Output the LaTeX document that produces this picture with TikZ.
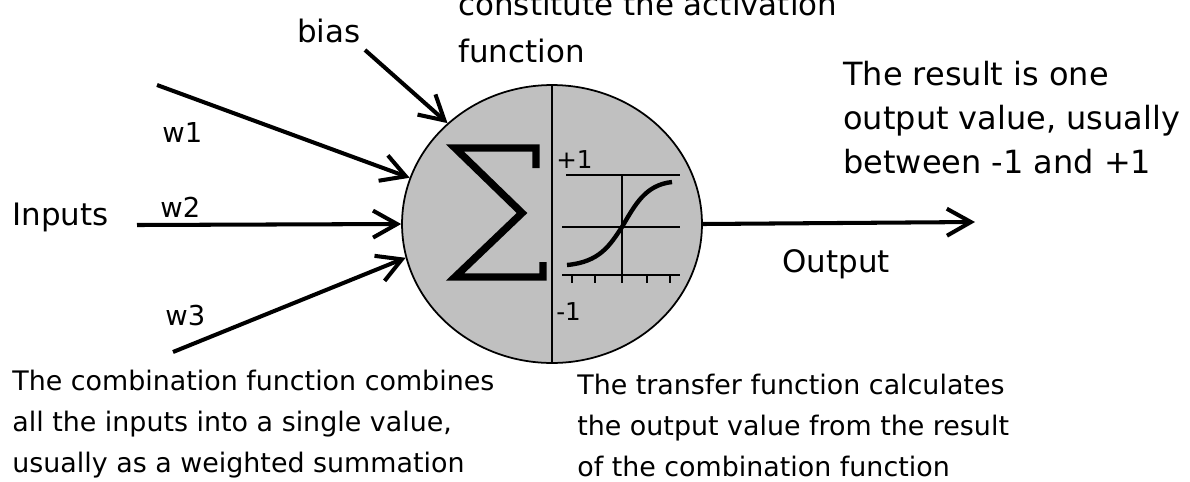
\documentclass[tikz,border=0pt]{standalone}
\usepackage{fontspec}
\setmainfont{DejaVu Sans}
\usetikzlibrary{arrows.meta,shapes.geometric}
\definecolor{cellgray}{HTML}{C0C0C0}
\begin{document}
\begin{tikzpicture}[x=0.02cm, y=-0.02cm,
  lbl/.style={inner sep=0pt, anchor=base west, font=\fontsize{17.6}{20}\selectfont},
  wlbl/.style={lbl, font=\fontsize{15.6}{18}\selectfont},
  note/.style={inner sep=0pt, anchor=north west, align=left},
  wire/.style={line width=2.3pt, -{Straight Barb[length=0.48cm, width=0.54cm]}},
  plotline/.style={line width=1.1pt}]
\useasboundingbox (0,0) rectangle (1190,481);
\node[ellipse, draw, line width=1pt, fill=cellgray, minimum width=6cm, minimum height=5.56cm, inner sep=0pt] (neuron) at (552,224) {};
\draw[line width=1.6pt] (neuron.north) -- (neuron.south);
\draw[line width=4.2pt] (536,168) -- (536,148) -- (455,148) -- (522,213) -- (455,277) -- (543,277) -- (543,262);
\draw[plotline] (566,175) -- (680,175) (562,227) -- (680,227) (562,275) -- (680,275) (622,175) -- (622,283);
\foreach \tx in {572,595,647,670}
  \draw[plotline] (\tx,275) -- (\tx,283);
\draw[line width=2.5pt] (567,265) .. controls (600,262) and (610,245) .. (622,227) .. controls (635,205) and (645,185) .. (672,182);
\node[lbl, font=\fontsize{14}{16}\selectfont] (pone) at (556,168) {+1};
\node[lbl, font=\fontsize{14}{16}\selectfont] (mone) at (556,320) {-1};
\coordinate (x1) at (157,85);
\coordinate (x2) at (137,225);
\coordinate (x3) at (173,352);
\coordinate (bs) at (365,50);
\coordinate (out) at (975,222);
\draw[wire] (x1) -- (neuron.162);
\draw[wire] (x2) -- (neuron.180);
\draw[wire] (x3) -- (neuron.193);
\draw[wire] (bs) -- (neuron.136);
\draw[wire] (neuron.east) -- (out);
\node[lbl] (inputs) at (12,225) {Inputs};
\node[lbl] (output) at (782,272) {Output};
\node[lbl] (bias) at (297,42) {bias};
\node[wlbl] (w1) at (162,142) {w1};
\node[wlbl] (w2) at (160,217) {w2};
\node[wlbl] (w3) at (165,325) {w3};
\node[note, font=\fontsize{17.6}{26.7}\selectfont] (act) at (458,-8.5) {constitute the activation\\function};
\node[note, font=\fontsize{18.2}{25}\selectfont] (result) at (843,61) {The result is one\\output value, usually\\between -1 and +1};
\node[note, font=\fontsize{15.3}{23.3}\selectfont] (comb) at (12,370) {The combination function combines\\all the inputs into a single value,\\usually as a weighted summation};
\node[note, font=\fontsize{15.3}{23.3}\selectfont] (transfer) at (577,374) {The transfer function calculates\\the output value from the result\\of the combination function};
\end{tikzpicture}
\end{document}
